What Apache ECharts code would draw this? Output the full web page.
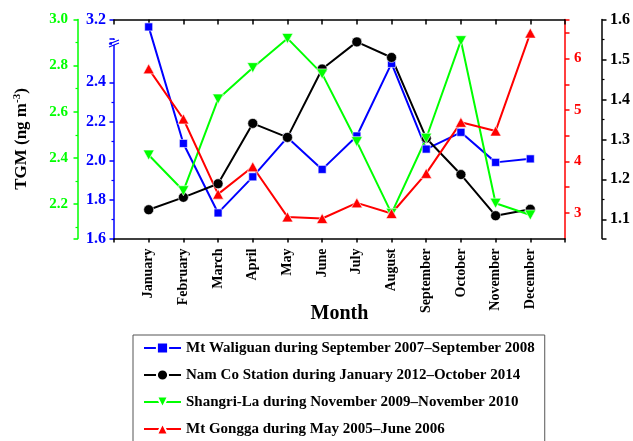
<!DOCTYPE html>
<html><head><meta charset="utf-8">
<script src="https://cdn.jsdelivr.net/npm/echarts@6/dist/echarts.min.js"></script>
<style>html,body{margin:0;padding:0;background:#fff}#c{width:633px;height:441px}</style>
</head><body><div id="c"></div>
<script>
const months = ['January','February','March','April','May','June','July','August','September','October','November','December'];
const seriesNames = [
  'Mt Waliguan during September 2007\u2013September 2008',
  'Nam Co Station during January 2012\u2013October 2014',
  'Shangri-La during November 2009\u2013November 2010',
  'Mt Gongga during May 2005\u2013June 2006'
];
const waliguan  = [3.05, 2.087, 1.731, 1.916, 2.118, 1.954, 2.125, 2.497, 2.058, 2.144, 1.990, 2.008];
const namco     = [1.124, 1.155, 1.189, 1.340, 1.305, 1.476, 1.544, 1.505, 1.303, 1.212, 1.109, 1.125];
const shangrila = [2.412, 2.257, 2.655, 2.791, 2.918, 2.764, 2.470, 2.159, 2.485, 2.908, 2.203, 2.152];
const gongga    = [5.80, 4.825, 3.363, 3.895, 2.92, 2.889, 3.193, 2.986, 3.766, 4.76, 4.59, 6.495];

const SERIF = '"Times New Roman", "Liberation Serif", serif';
const GREEN = '#00ff00', BLUE = '#0000ff', RED = '#ff0000', BLACK = '#000000';

function pts(vals){ return vals.map((v,i)=>[i+1, v]); }
function near(v, t){ return Math.abs(v - t) < 1e-6; }

function yAxisBase(color, pos, offset, size, margin){
  return {
    type:'value', position:pos, offset:offset,
    axisLine:{show:true, onZero:false, lineStyle:{color:color, width:1.5}},
    axisTick:{show:true, inside:false, length:4.5, lineStyle:{color:color, width:1.5}},
    minorTick:{show:true, splitNumber:2, length:2.5, lineStyle:{color:color, width:1.2}},
    axisLabel:{color:color, fontFamily:SERIF, fontWeight:'bold', fontSize:size, margin:margin, showMinLabel:false},
    splitLine:{show:false}
  };
}

const chart = echarts.init(document.getElementById('c'), null, {renderer:'canvas'});

const yGreen = Object.assign(yAxisBase(GREEN,'left',36,15,10), {
  min:2.05, max:3.0, splitNumber:5,
  name:'TGM (ng m{sup|-3})', nameLocation:'middle', nameGap:46, nameRotate:90,
  nameTextStyle:{color:'#000', fontFamily:SERIF, fontWeight:'bold', fontSize:17, padding:[0,20,0,0],
    rich:{sup:{fontFamily:SERIF, fontWeight:'bold', fontSize:11, padding:[0,0,9,0], color:'#000'}}}
});
yGreen.axisLabel.formatter = function(v){ return v.toFixed(1); };
const yBlue = Object.assign(yAxisBase(BLUE,'left',0,16,8), {
  min:1.6, max:3.2, interval:0.2,
  breaks:[{start:2.6, end:2.79, gap:0.0033}, {start:2.81, end:3.2, gap:0.0987}],
  breakArea:{show:false},
});
yBlue.axisLabel.formatter = function(v){
  if (near(v,2.8) || near(v,3.2) || (v < 2.5 && Math.abs(v*5 - Math.round(v*5)) < 1e-6)) return v.toFixed(1);
  return '';
};
yBlue.axisLabel.showMinLabel = true;
const yRed = Object.assign(yAxisBase(RED,'right',0,15,9), {
  min:2.5, max:6.76, interval:0.5,
  minorTick:{show:false}
});
yRed.axisLabel.formatter = function(v){ return Math.abs(v - Math.round(v)) < 1e-6 ? String(Math.round(v)) : ''; };
const yBlack = Object.assign(yAxisBase(BLACK,'right',37,16,8), {
  min:1.052, max:1.6, splitNumber:5
});

const option = {
  animation:false,
  backgroundColor:'#fff',
  grid:{left:114, top:19.5, width:452, height:219, containLabel:false},
  xAxis:[{
    type:'value', min:0, max:13, interval:1, position:'bottom',
    name:'Month', nameLocation:'middle', nameGap:65, nameMoveOverlap:false,
    nameTextStyle:{color:'#000', fontFamily:SERIF, fontWeight:'bold', fontSize:20},
    axisLine:{show:true, onZero:false, lineStyle:{color:'#000', width:1.5}},
    axisTick:{show:true, inside:false, length:4, lineStyle:{color:'#000', width:1.5}},
    axisLabel:{rotate:90, margin:10, color:'#000', fontFamily:SERIF, fontWeight:'bold', fontSize:14,
      formatter:function(v){ return months[v-1] || ''; }},
    splitLine:{show:false}
  },{
    type:'value', min:0, max:13, interval:1, position:'top',
    axisLine:{show:true, onZero:false, lineStyle:{color:'#000', width:1.5}},
    axisTick:{show:true, inside:true, length:5, lineStyle:{color:'#000', width:1.5}},
    axisLabel:{show:false}, splitLine:{show:false}
  }],
  yAxis:[yGreen, yBlue, yRed, yBlack],
  legend:{
    orient:'vertical', left:133, top:335, height:200,
    padding:[5,10,5,10], itemGap:11, itemWidth:37, itemHeight:14,
    borderColor:'#555', borderWidth:1,
    textStyle:{color:'#000', fontFamily:SERIF, fontWeight:'bold', fontSize:15, lineHeight:16},
    data:seriesNames
  },
  series:[
    {name:seriesNames[0], type:'line', xAxisIndex:0, yAxisIndex:1, data:pts(waliguan),
     symbol:'rect', symbolSize:8, lineStyle:{color:BLUE, width:2}, itemStyle:{color:BLUE, borderColor:'#fff', borderWidth:0.6}},
    {name:seriesNames[1], type:'line', xAxisIndex:0, yAxisIndex:3, data:pts(namco),
     symbol:'circle', symbolSize:10, lineStyle:{color:BLACK, width:2}, itemStyle:{color:BLACK, borderColor:'#fff', borderWidth:0.6}},
    {name:seriesNames[2], type:'line', xAxisIndex:0, yAxisIndex:0, data:pts(shangrila),
     symbol:'triangle', symbolRotate:180, symbolSize:[11,10], lineStyle:{color:GREEN, width:2}, itemStyle:{color:GREEN, borderColor:'#fff', borderWidth:0.6}},
    {name:seriesNames[3], type:'line', xAxisIndex:0, yAxisIndex:2, data:pts(gongga),
     symbol:'triangle', symbolSize:[11,10], lineStyle:{color:RED, width:2}, itemStyle:{color:RED, borderColor:'#fff', borderWidth:0.6}}
  ]
};
chart.setOption(option);

// axis-break marks on the blue axis
const bx = chart.convertToPixel({xAxisIndex:0}, 0);
const by = chart.convertToPixel({yAxisIndex:1}, 2.7);
chart.setOption({graphic:[
  {type:'rect', shape:{x:bx-2, y:by-3, width:4, height:5}, style:{fill:'#fff'}, z:100},
  {type:'line', shape:{x1:bx-5, y1:by+1, x2:bx+5, y2:by-3}, style:{stroke:BLUE, lineWidth:1.2}, z:101},
  {type:'line', shape:{x1:bx-5, y1:by+4, x2:bx+5, y2:by}, style:{stroke:BLUE, lineWidth:1.2}, z:101}
]});
</script>
</body></html>
